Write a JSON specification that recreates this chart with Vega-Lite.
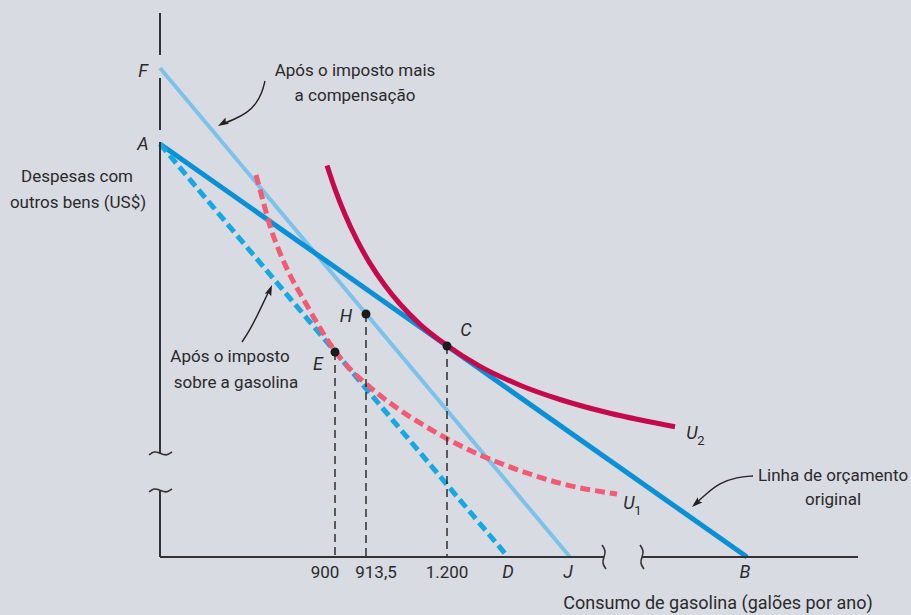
{
  "$schema": "https://vega.github.io/schema/vega-lite/v6.json",
  "width": 911,
  "height": 615,
  "padding": 0,
  "autosize": {"type": "none"},
  "background": "#d9dbe3",
  "config": {"view": {"stroke": null}},
  "datasets": {
    "curves": [
      {"k": "budget", "s": "FJ", "o": 0, "x": 0, "y": 489},
      {"k": "budget", "s": "FJ", "o": 1, "x": 410, "y": 0},
      {"k": "budget", "s": "AB", "o": 0, "x": 0, "y": 413},
      {"k": "budget", "s": "AB", "o": 1, "x": 587, "y": 0},
      {"k": "budget", "s": "AD", "o": 0, "x": 0, "y": 413},
      {"k": "budget", "s": "AD", "o": 1, "x": 348, "y": 0},
      {"k": "indiff", "s": "U2", "o": 0, "x": 167, "y": 391.6},
      {"k": "indiff", "s": "U2", "o": 1, "x": 175, "y": 367.8},
      {"k": "indiff", "s": "U2", "o": 2, "x": 185, "y": 342.4},
      {"k": "indiff", "s": "U2", "o": 3, "x": 197, "y": 316.8},
      {"k": "indiff", "s": "U2", "o": 4, "x": 210, "y": 293.6},
      {"k": "indiff", "s": "U2", "o": 5, "x": 225, "y": 271.5},
      {"k": "indiff", "s": "U2", "o": 6, "x": 240, "y": 253.0},
      {"k": "indiff", "s": "U2", "o": 7, "x": 260, "y": 232.7},
      {"k": "indiff", "s": "U2", "o": 8, "x": 287, "y": 211.5},
      {"k": "indiff", "s": "U2", "o": 9, "x": 320, "y": 190.6},
      {"k": "indiff", "s": "U2", "o": 10, "x": 360, "y": 171.8},
      {"k": "indiff", "s": "U2", "o": 11, "x": 400, "y": 157.5},
      {"k": "indiff", "s": "U2", "o": 12, "x": 450, "y": 143.7},
      {"k": "indiff", "s": "U2", "o": 13, "x": 515, "y": 130.3},
      {"k": "indiff", "s": "U1", "o": 0, "x": 96, "y": 382},
      {"k": "indiff", "s": "U1", "o": 1, "x": 102, "y": 360},
      {"k": "indiff", "s": "U1", "o": 2, "x": 110, "y": 331},
      {"k": "indiff", "s": "U1", "o": 3, "x": 120, "y": 304},
      {"k": "indiff", "s": "U1", "o": 4, "x": 131, "y": 280},
      {"k": "indiff", "s": "U1", "o": 5, "x": 145, "y": 255},
      {"k": "indiff", "s": "U1", "o": 6, "x": 160, "y": 229},
      {"k": "indiff", "s": "U1", "o": 7, "x": 175, "y": 206},
      {"k": "indiff", "s": "U1", "o": 8, "x": 190, "y": 188},
      {"k": "indiff", "s": "U1", "o": 9, "x": 205, "y": 174},
      {"k": "indiff", "s": "U1", "o": 10, "x": 237, "y": 149},
      {"k": "indiff", "s": "U1", "o": 11, "x": 270, "y": 128},
      {"k": "indiff", "s": "U1", "o": 12, "x": 303, "y": 110},
      {"k": "indiff", "s": "U1", "o": 13, "x": 337, "y": 95},
      {"k": "indiff", "s": "U1", "o": 14, "x": 370, "y": 83},
      {"k": "indiff", "s": "U1", "o": 15, "x": 403, "y": 73},
      {"k": "indiff", "s": "U1", "o": 16, "x": 457, "y": 63},
      {"k": "drop", "s": "VE", "o": 0, "x": 175, "y": 205},
      {"k": "drop", "s": "VE", "o": 1, "x": 175, "y": 0},
      {"k": "drop", "s": "VH", "o": 0, "x": 206, "y": 243},
      {"k": "drop", "s": "VH", "o": 1, "x": 206, "y": 0},
      {"k": "drop", "s": "VC", "o": 0, "x": 287, "y": 211},
      {"k": "drop", "s": "VC", "o": 1, "x": 287, "y": 0},
      {"k": "axis", "s": "Y1", "o": 0, "x": 0, "y": 544},
      {"k": "axis", "s": "Y1", "o": 1, "x": 0, "y": 502},
      {"k": "axis", "s": "Y2", "o": 0, "x": 0, "y": 479},
      {"k": "axis", "s": "Y2", "o": 1, "x": 0, "y": 427},
      {"k": "axis", "s": "Y3", "o": 0, "x": 0, "y": 415},
      {"k": "axis", "s": "Y3", "o": 1, "x": 0, "y": 104},
      {"k": "axis", "s": "Y4", "o": 0, "x": 0, "y": 67},
      {"k": "axis", "s": "Y4", "o": 1, "x": 0, "y": 0},
      {"k": "axis", "s": "X1", "o": 0, "x": 0, "y": 0},
      {"k": "axis", "s": "X1", "o": 1, "x": 444, "y": 0},
      {"k": "axis", "s": "X2", "o": 0, "x": 482, "y": 0},
      {"k": "axis", "s": "X2", "o": 1, "x": 698, "y": 0},
      {"k": "brk", "s": "B1", "o": 0, "x": -11, "y": 102},
      {"k": "brk", "s": "B1", "o": 1, "x": -6, "y": 106},
      {"k": "brk", "s": "B1", "o": 2, "x": 0, "y": 104},
      {"k": "brk", "s": "B1", "o": 3, "x": 6, "y": 101},
      {"k": "brk", "s": "B1", "o": 4, "x": 12, "y": 105},
      {"k": "brk", "s": "B2", "o": 0, "x": -11, "y": 65},
      {"k": "brk", "s": "B2", "o": 1, "x": -6, "y": 69},
      {"k": "brk", "s": "B2", "o": 2, "x": 0, "y": 67},
      {"k": "brk", "s": "B2", "o": 3, "x": 6, "y": 64},
      {"k": "brk", "s": "B2", "o": 4, "x": 12, "y": 68},
      {"k": "brk", "s": "B3", "o": 0, "x": 442, "y": 12},
      {"k": "brk", "s": "B3", "o": 1, "x": 446, "y": 6},
      {"k": "brk", "s": "B3", "o": 2, "x": 444, "y": 0},
      {"k": "brk", "s": "B3", "o": 3, "x": 442, "y": -6},
      {"k": "brk", "s": "B3", "o": 4, "x": 446, "y": -12},
      {"k": "brk", "s": "B4", "o": 0, "x": 480, "y": 12},
      {"k": "brk", "s": "B4", "o": 1, "x": 484, "y": 6},
      {"k": "brk", "s": "B4", "o": 2, "x": 482, "y": 0},
      {"k": "brk", "s": "B4", "o": 3, "x": 480, "y": -6},
      {"k": "brk", "s": "B4", "o": 4, "x": 484, "y": -12},
      {"k": "arrow", "s": "A1", "o": 0, "x": 105, "y": 476},
      {"k": "arrow", "s": "A1", "o": 1, "x": 102, "y": 464},
      {"k": "arrow", "s": "A1", "o": 2, "x": 96, "y": 453},
      {"k": "arrow", "s": "A1", "o": 3, "x": 87, "y": 444},
      {"k": "arrow", "s": "A1", "o": 4, "x": 73, "y": 437},
      {"k": "arrow", "s": "A1", "o": 5, "x": 62, "y": 433},
      {"k": "arrow", "s": "A2", "o": 0, "x": 82, "y": 215},
      {"k": "arrow", "s": "A2", "o": 1, "x": 90, "y": 227},
      {"k": "arrow", "s": "A2", "o": 2, "x": 100, "y": 247},
      {"k": "arrow", "s": "A2", "o": 3, "x": 106, "y": 260},
      {"k": "arrow", "s": "A2", "o": 4, "x": 110, "y": 268},
      {"k": "arrow", "s": "A3", "o": 0, "x": 593, "y": 81},
      {"k": "arrow", "s": "A3", "o": 1, "x": 577, "y": 80},
      {"k": "arrow", "s": "A3", "o": 2, "x": 560, "y": 74},
      {"k": "arrow", "s": "A3", "o": 3, "x": 547, "y": 64},
      {"k": "arrow", "s": "A3", "o": 4, "x": 535, "y": 53}
    ],
    "dots": [
      {"s": "E", "x": 175, "y": 205},
      {"s": "H", "x": 206, "y": 243},
      {"s": "C", "x": 287, "y": 211}
    ],
    "heads": [
      {"s": "A1", "x": 58, "y": 431},
      {"s": "A2", "x": 112, "y": 272},
      {"s": "A3", "x": 532, "y": 50}
    ],
    "letters": [
      {"t": "F", "x": -17, "y": 485},
      {"t": "A", "x": -17, "y": 412},
      {"t": "H", "x": 186, "y": 240},
      {"t": "E", "x": 158, "y": 192},
      {"t": "C", "x": 306, "y": 226},
      {"t": "D", "x": 348, "y": -16},
      {"t": "J", "x": 408, "y": -16},
      {"t": "B", "x": 585, "y": -16},
      {"t": "U", "x": 532, "y": 123},
      {"t": "U", "x": 469, "y": 53}
    ],
    "subs": [
      {"t": "2", "x": 541, "y": 116},
      {"t": "1", "x": 478, "y": 46}
    ],
    "notes": [
      {"t": "Após o imposto mais", "x": 195, "y": 486},
      {"t": "a compensação", "x": 195, "y": 461},
      {"t": "Despesas com", "x": -83, "y": 380},
      {"t": "outros bens (US$)", "x": -82, "y": 354},
      {"t": "Após o imposto", "x": 70, "y": 200},
      {"t": "sobre a gasolina", "x": 76, "y": 174},
      {"t": "Linha de orçamento", "x": 673, "y": 81},
      {"t": "original", "x": 673, "y": 57},
      {"t": "900", "x": 165, "y": -16},
      {"t": "913,5", "x": 216, "y": -16},
      {"t": "1.200", "x": 287, "y": -16}
    ],
    "titles": [
      {"t": "Consumo de gasolina (galões por ano)", "x": 558, "y": -47}
    ]
  },
  "encoding": {
    "x": {"field": "x", "type": "quantitative", "scale": {"domain": [-160, 751], "nice": false, "zero": false}, "axis": null},
    "y": {"field": "y", "type": "quantitative", "scale": {"domain": [-58, 557], "nice": false, "zero": false}, "axis": null}
  },
  "layer": [
    {"data": {"name": "curves"}, "transform": [{"filter": "datum.s === 'FJ'"}],
     "mark": {"type": "line", "color": "#7cc2ea", "strokeWidth": 4, "strokeCap": "butt"},
     "encoding": {"order": {"field": "o"}}},
    {"data": {"name": "curves"}, "transform": [{"filter": "datum.s === 'AB'"}],
     "mark": {"type": "line", "color": "#0a90d5", "strokeWidth": 5, "strokeCap": "butt"},
     "encoding": {"order": {"field": "o"}}},
    {"data": {"name": "curves"}, "transform": [{"filter": "datum.s === 'AD'"}],
     "mark": {"type": "line", "color": "#17a8e1", "strokeWidth": 5, "strokeDash": [10, 5], "strokeCap": "butt"},
     "encoding": {"order": {"field": "o"}}},
    {"data": {"name": "curves"}, "transform": [{"filter": "datum.s === 'U1'"}],
     "mark": {"type": "line", "color": "#f25b74", "strokeWidth": 5, "strokeDash": [10, 5], "strokeCap": "butt", "interpolate": "monotone"},
     "encoding": {"order": {"field": "o"}}},
    {"data": {"name": "curves"}, "transform": [{"filter": "datum.s === 'U2'"}],
     "mark": {"type": "line", "color": "#c50a4c", "strokeWidth": 5, "strokeCap": "butt", "interpolate": "monotone"},
     "encoding": {"order": {"field": "o"}}},
    {"data": {"name": "curves"}, "transform": [{"filter": "datum.k === 'drop'"}],
     "mark": {"type": "line", "color": "#222222", "strokeWidth": 1.4, "strokeDash": [8, 5]},
     "encoding": {"detail": {"field": "s"}, "order": {"field": "o"}}},
    {"data": {"name": "curves"}, "transform": [{"filter": "datum.k === 'axis'"}],
     "mark": {"type": "line", "color": "#333333", "strokeWidth": 2},
     "encoding": {"detail": {"field": "s"}, "order": {"field": "o"}}},
    {"data": {"name": "curves"}, "transform": [{"filter": "datum.k === 'brk'"}],
     "mark": {"type": "line", "color": "#333333", "strokeWidth": 1.6, "interpolate": "basis"},
     "encoding": {"detail": {"field": "s"}, "order": {"field": "o"}}},
    {"data": {"name": "curves"}, "transform": [{"filter": "datum.k === 'arrow'"}],
     "mark": {"type": "line", "color": "#222222", "strokeWidth": 1.4, "interpolate": "basis"},
     "encoding": {"detail": {"field": "s"}, "order": {"field": "o"}}},
    {"data": {"name": "heads"}, "transform": [{"filter": "datum.s === 'A1'"}],
     "mark": {"type": "point", "shape": "M0,0 L0.55,1.7 L0,1.4 L-0.55,1.7 Z", "filled": true, "color": "#222222", "opacity": 1, "size": 160, "angle": 240}},
    {"data": {"name": "heads"}, "transform": [{"filter": "datum.s === 'A2'"}],
     "mark": {"type": "point", "shape": "M0,0 L0.55,1.7 L0,1.4 L-0.55,1.7 Z", "filled": true, "color": "#222222", "opacity": 1, "size": 160, "angle": 22}},
    {"data": {"name": "heads"}, "transform": [{"filter": "datum.s === 'A3'"}],
     "mark": {"type": "point", "shape": "M0,0 L0.55,1.7 L0,1.4 L-0.55,1.7 Z", "filled": true, "color": "#222222", "opacity": 1, "size": 160, "angle": 228}},
    {"data": {"name": "dots"},
     "mark": {"type": "circle", "color": "#1b1b1b", "opacity": 1, "size": 80}},
    {"data": {"name": "letters"},
     "mark": {"type": "text", "font": "Roboto", "fontStyle": "italic", "fontSize": 18, "color": "#2a2a2a", "align": "center", "baseline": "middle"},
     "encoding": {"text": {"field": "t"}}},
    {"data": {"name": "subs"},
     "mark": {"type": "text", "font": "Roboto", "fontSize": 13, "color": "#2a2a2a", "align": "center", "baseline": "middle"},
     "encoding": {"text": {"field": "t"}}},
    {"data": {"name": "notes"},
     "mark": {"type": "text", "font": "Roboto", "fontSize": 17, "color": "#2a2a2a", "align": "center", "baseline": "middle"},
     "encoding": {"text": {"field": "t"}}},
    {"data": {"name": "titles"},
     "mark": {"type": "text", "font": "Roboto", "fontSize": 18, "color": "#2a2a2a", "align": "center", "baseline": "middle"},
     "encoding": {"text": {"field": "t"}}}
  ]
}
